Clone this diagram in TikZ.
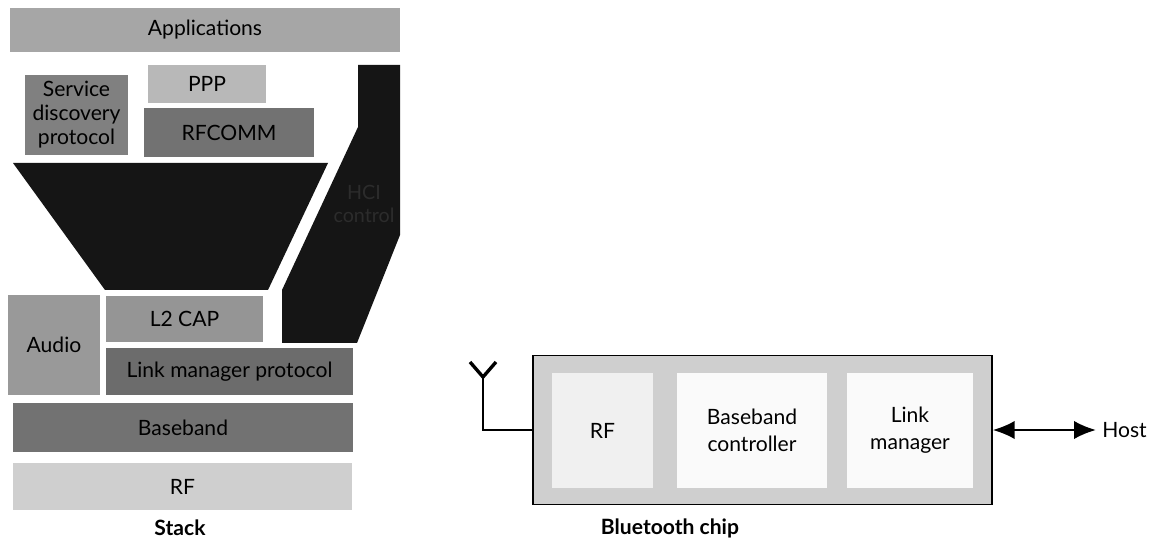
\documentclass[tikz,border=0pt]{standalone}
\usepackage{fontspec}
\setmainfont{Lato}
\usepackage{xcolor}
\usepackage{tikz}
\usetikzlibrary{positioning, arrows.meta}

\definecolor{lightgr}{HTML}{CFCFCF}
\definecolor{midgr}{HTML}{A6A6A6}
\definecolor{darkgr}{HTML}{727272}
\definecolor{nearblack}{HTML}{151515}
\definecolor{hcitext}{HTML}{2C2C2C}

\begin{document}
\begin{tikzpicture}[
      x=1cm, y=-1cm,
      layer/.style={fill=#1, inner sep=0pt, align=center,
        font=\fontsize{15}{17}\selectfont},
      chipbox/.style={fill=#1, inner sep=0pt, align=center,
        minimum height=2.875cm, font=\fontsize{15}{19}\selectfont},
      caption/.style={font=\fontsize{15}{17}\selectfont\bfseries},
      arr/.style={{Latex[length=5.5mm,width=4.6mm]}-{Latex[length=5.5mm,width=4.6mm]}, line width=1.6pt}
    ]
    \useasboundingbox (0,0) rectangle (28.9,13.55);

    % protocol stack
    \node[layer=midgr, minimum width=9.75cm, minimum height=1.1cm] (apps) at (5.125,0.75) {Applications};
    \node[layer=darkgr!90, minimum width=2.575cm, minimum height=2cm] (sdp) at (1.9125,2.875) {Service\\discovery\\protocol};
    \node[layer=midgr!80, minimum width=2.95cm, minimum height=0.95cm] (ppp) at (5.175,2.1) {PPP};
    \node[layer=darkgr, minimum width=4.25cm, minimum height=1.225cm] (rfcomm) at (5.725,3.3125) {RFCOMM};
    \fill[nearblack] (0.325,4.075) -- (8.2,4.075) -- (6.7,7.25) -- (2.625,7.25) -- cycle;
    \fill[nearblack] (8.95,1.625) -- (10,1.625) -- (10,5.875) -- (8.925,8.575)
      -- (7.05,8.575) -- (7.05,7.25) -- (8.95,3.175) -- cycle;
    \node[text=hcitext, align=center, font=\fontsize{14}{16}\selectfont] (hci) at (9.1,5.1) {HCI\\control};
    \node[layer=midgr!90!black, minimum width=3.925cm, minimum height=1.15cm] (l2cap) at (4.6125,7.975) {L2 CAP};
    \node[layer=midgr!92!black, minimum width=2.3cm, minimum height=2.5cm] (audio) at (1.35,8.625) {Audio};
    \node[layer=darkgr!95!black, minimum width=6.175cm, minimum height=1.175cm] (lmp) at (5.7375,9.2875) {Link manager protocol};
    \node[layer=darkgr, minimum width=8.5cm, minimum height=1.225cm] (baseband) at (4.575,10.6875) {Baseband};
    \node[layer=lightgr, minimum width=8.475cm, minimum height=1.175cm] (rf) at (4.5625,12.1625) {RF};
    \node[caption] (stack) at (4.5,13.2) {Stack};

    % bluetooth chip
    \node[draw, line width=1pt, fill=lightgr, minimum width=11.475cm, minimum height=3.725cm] (chip) at (19.0625,10.75) {};
    \node[chipbox=black!6, minimum width=2.525cm] (chiprf) at (15.0625,10.7625) {RF};
    \node[chipbox=black!2, minimum width=3.75cm] (chipbb) at (18.8,10.7625) {Baseband\\controller};
    \node[chipbox=black!2, minimum width=3.15cm] (chiplm) at (22.75,10.7625) {Link\\manager};
    \node[caption] (chipcap) at (16.75,13.2) {Bluetooth chip};

    % antenna
    \coordinate (ant) at (12.075,9.425);
    \draw[line width=1.4pt] (chip.west) -| (ant);
    \draw[line width=2.4pt] (11.75,9.05) -- (ant) -- (12.4,9.05);

    % host link
    \node[anchor=west, inner sep=0pt, font=\fontsize{15}{17}\selectfont] (host) at (27.55,10.75) {Host};
    \draw[arr] (chip.east) -- ([xshift=-1.5mm]host.west);
  \end{tikzpicture}
\end{document}
